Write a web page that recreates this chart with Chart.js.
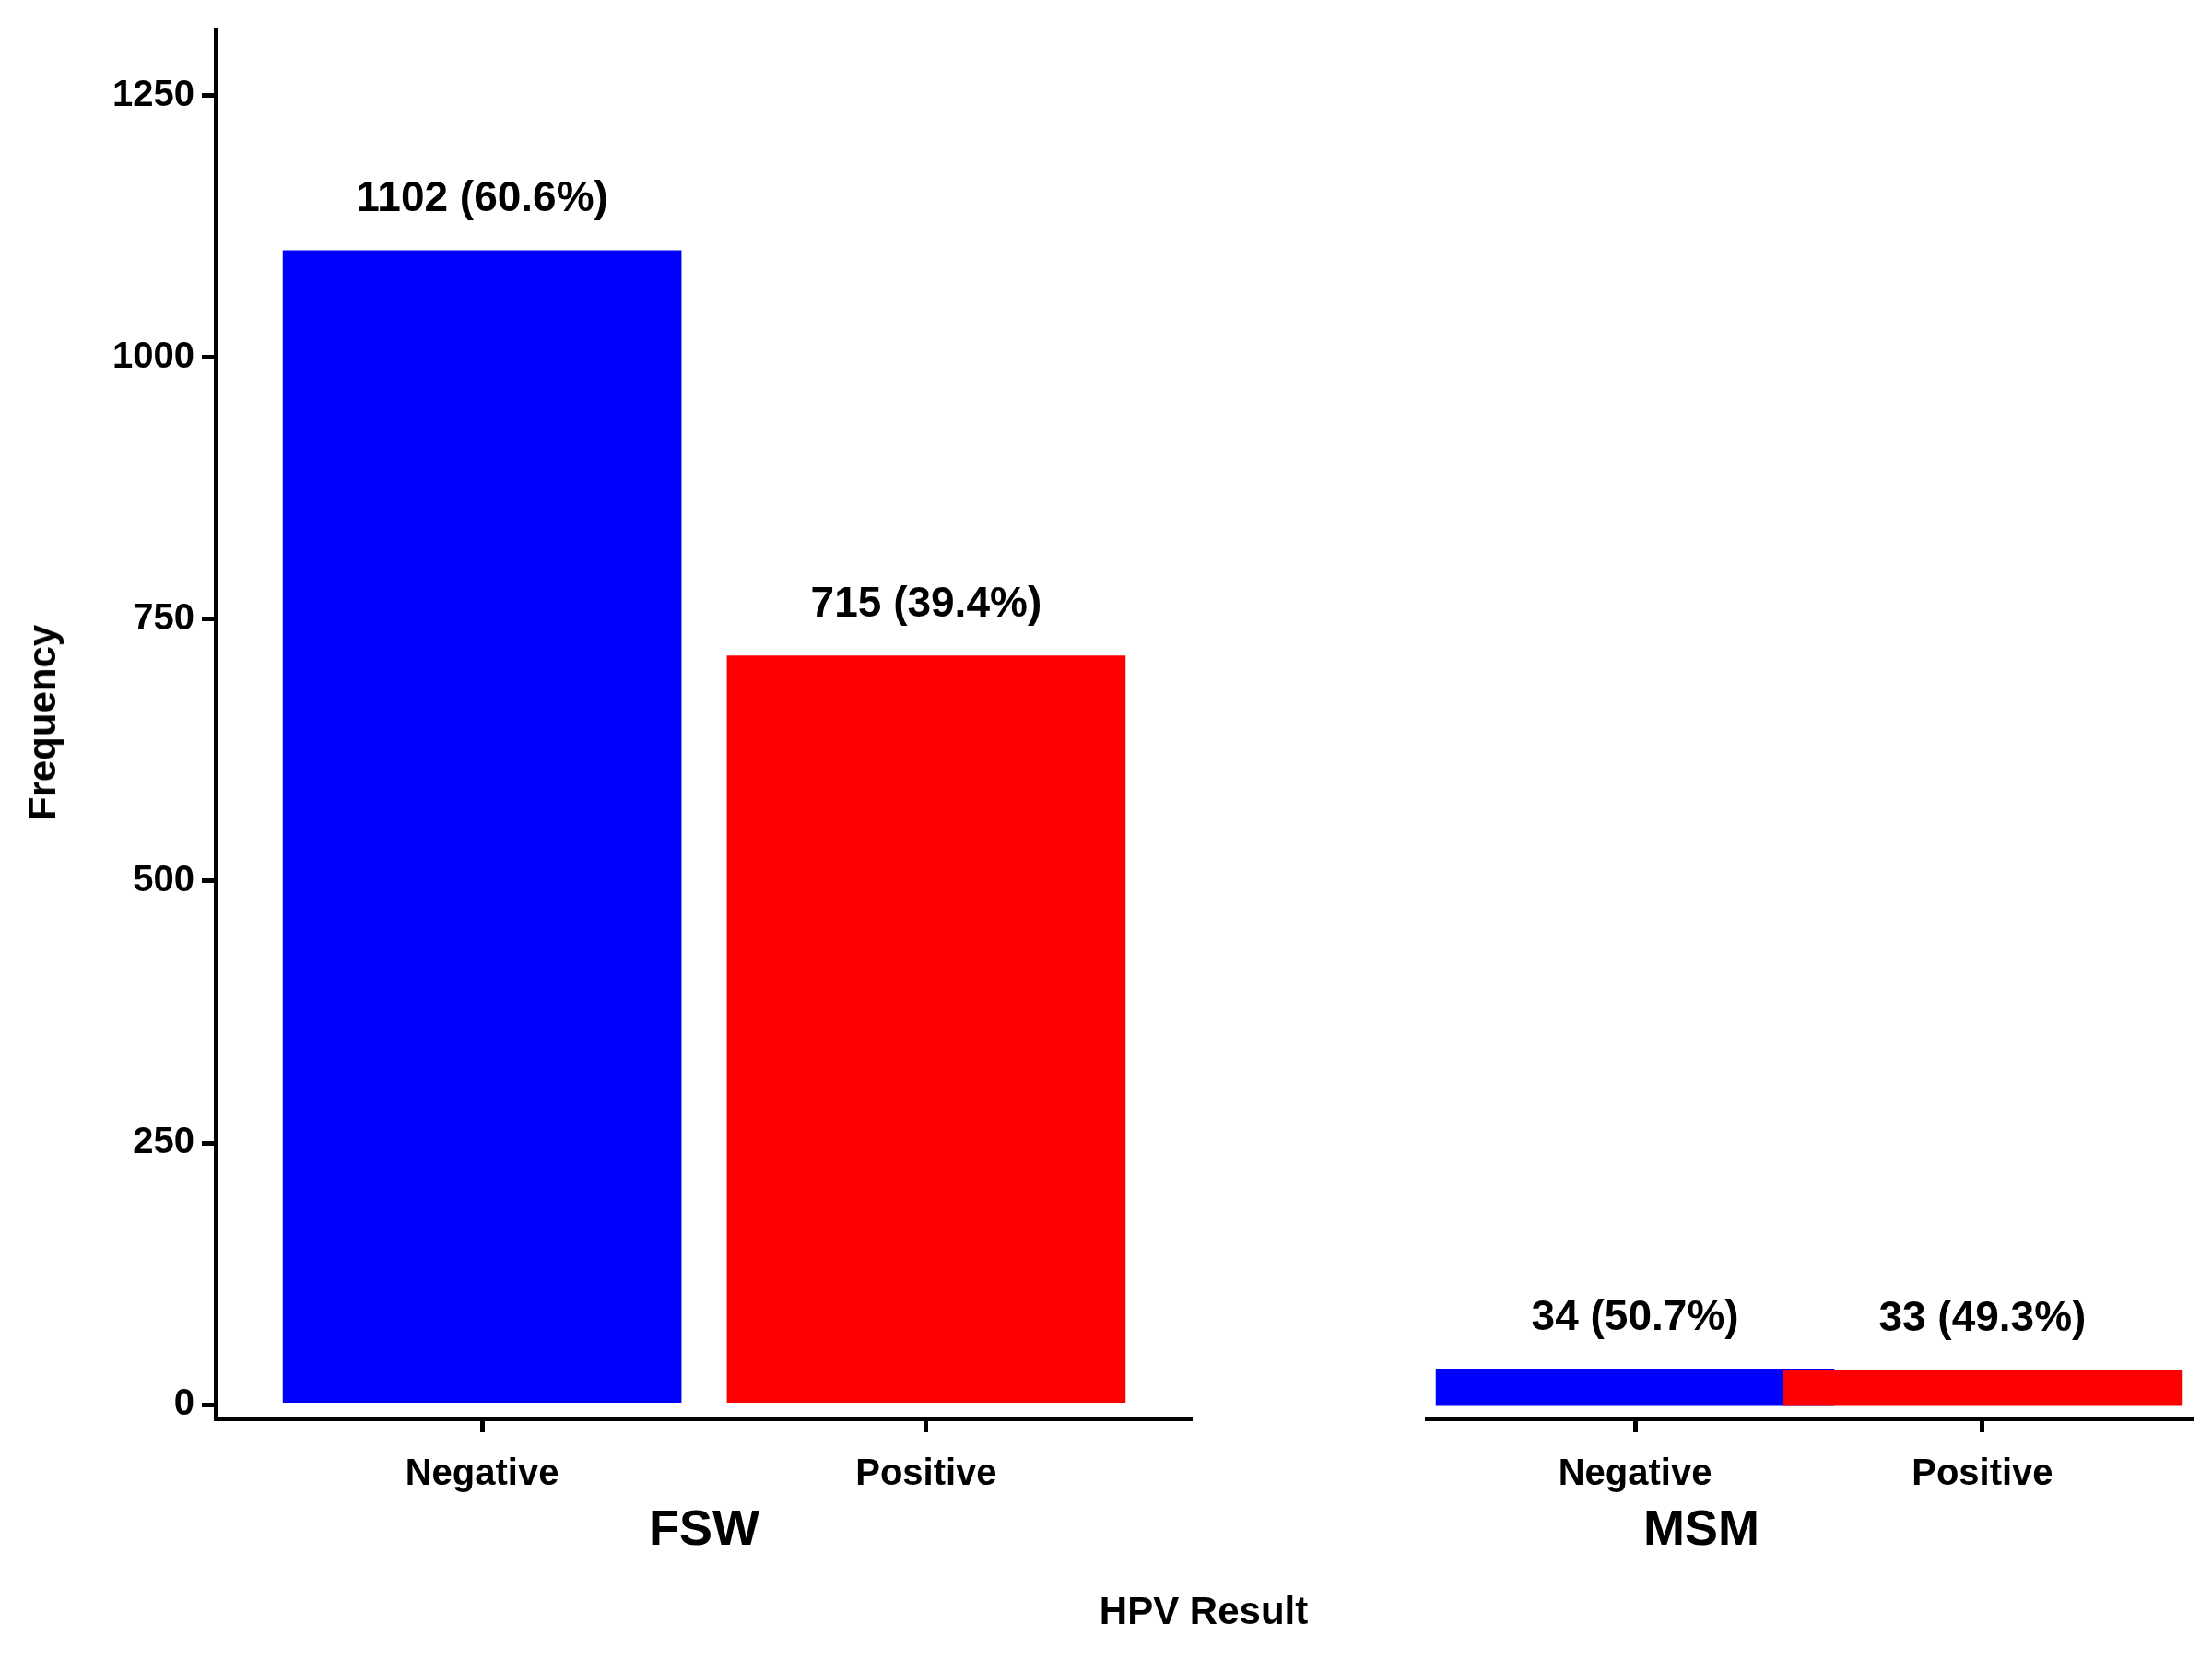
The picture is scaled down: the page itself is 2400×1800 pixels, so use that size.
<!DOCTYPE html>
<html><head><meta charset="utf-8">
<script src="https://cdn.jsdelivr.net/npm/chart.js@4"></script>
<style>
body{margin:0;background:#fff;font-family:"Liberation Sans",Arial,sans-serif;}
#wrap{position:relative;width:2400px;height:1800px;}
canvas{position:absolute;top:0;}
.lbl{position:absolute;font-weight:bold;color:#000;transform:translate(-50%,-50%);white-space:nowrap;}
</style></head><body>
<div id="wrap">
  <canvas id="c1" style="left:0" width="1294" height="1800"></canvas>
  <canvas id="c2" style="left:1314px" width="1086" height="1800"></canvas>
  <div class="lbl" style="left:764px;top:1657px;font-size:54px">FSW</div>
  <div class="lbl" style="left:1846px;top:1657px;font-size:54px">MSM</div>
  <div class="lbl" style="left:1306px;top:1748px;font-size:42px">HPV Result</div>
  <div class="lbl" style="left:46px;top:784px;font-size:42px;transform:translate(-50%,-50%) rotate(-90deg)">Frequency</div>
</div>
<script>
const groups = ["FSW","MSM"];
const results = ["Negative","Positive"];
const fswValues = [1102, 715];
const msmValues = [34, 33];
const fswPct = ["60.6%","39.4%"];
const msmPct = ["50.7%","49.3%"];
const yTicks = [0,250,500,750,1000,1250];
const colors = ["#0000ff","#ff0000"];

const FONT = "'Liberation Sans', Arial, sans-serif";

/* labels above bars */
const barLabels = {
  id:'barLabels',
  afterDatasetsDraw(chart){
    const ctx = chart.ctx;
    const pct = chart.options.plugins.barLabels.pct;
    chart.getDatasetMeta(0).data.forEach((bar,i)=>{
      const v = chart.data.datasets[0].data[i].y;
      ctx.save();
      ctx.font = "bold 46px " + FONT;
      ctx.fillStyle = "#000";
      ctx.textAlign = "center";
      ctx.textBaseline = "middle";
      ctx.fillText(v + " (" + pct[i] + ")", bar.x, bar.y - 55);
      ctx.restore();
    });
  }
};

function makeChart(id, values, pct, showY){
  return new Chart(document.getElementById(id),{
    type:'bar',
    data:{
      datasets:[{
        data: values.map((v,i)=>({x:i+1,y:v})),
        backgroundColor: colors,
        barThickness: 432
      }]
    },
    options:{
      responsive:false,
      animation:false,
      layout:{padding:{top:23,right:showY?0:23,left:0,bottom:0}},
      plugins:{legend:{display:false},tooltip:{enabled:false},barLabels:{pct}},
      scales:{
        x:{
          type:'linear', min:0.4, max:2.6, offset:false,
          afterBuildTicks: s=>{ s.ticks = [{value:1},{value:2}]; },
          afterFit: s=>{ s.height = 261; },
          border:{display:true,color:'#000',width:5},
          grid:{offset:false,drawOnChartArea:false,drawTicks:true,tickLength:15,lineWidth:5,color:'#000'},
          ticks:{color:'#000',padding:22,font:{family:FONT,size:40,weight:'bold'},
                 callback:v=>results[v-1]}
        },
        y:{
          display: showY,
          min:-13, max:1313,
          afterBuildTicks: s=>{ s.ticks = yTicks.map(v=>({value:v})); },
          afterFit: s=>{ s.width = 234; },
          border:{display:true,color:'#000',width:5},
          grid:{drawOnChartArea:false,drawTicks:true,tickLength:15,lineWidth:5,color:'#000'},
          ticks:{color:'#000',padding:8,font:{family:FONT,size:40,weight:'bold'},
                 callback:v=>String(v)}
        }
      }
    },
    plugins:[barLabels]
  });
}

makeChart('c1', fswValues, fswPct, true);
makeChart('c2', msmValues, msmPct, false);
</script>
</body></html>
